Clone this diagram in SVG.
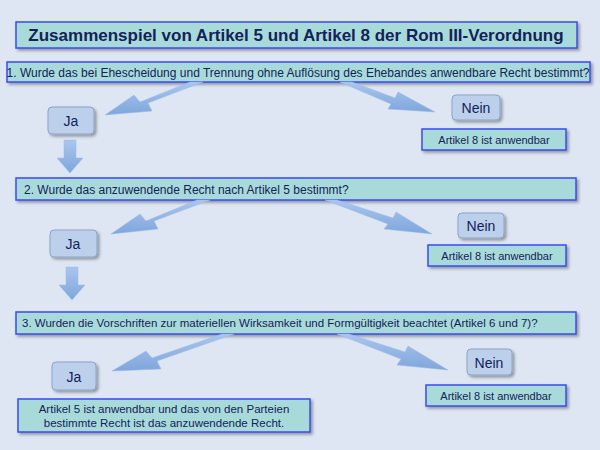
<svg xmlns="http://www.w3.org/2000/svg" width="600" height="450" viewBox="0 0 600 450">
<defs>
<filter id="sh" x="-10%" y="-10%" width="130%" height="150%"><feDropShadow dx="2" dy="2" stdDeviation="1.5" flood-color="#000" flood-opacity="0.35"/></filter>
<linearGradient id="ag" x1="0" y1="0" x2="0" y2="1"><stop offset="0" stop-color="#a9c6ee"/><stop offset="1" stop-color="#7fa6dc"/></linearGradient>
</defs>
<style>
.box{fill:#a9dada;stroke:#3b4bef;stroke-width:1.5;filter:url(#sh)}
.btn{fill:#bcd0ec;stroke:#8aa3c8;stroke-width:1;filter:url(#sh)}
.t{font-family:"Liberation Sans",Arial,sans-serif;fill:#13225a}
.arr{fill:url(#ag);stroke:#9cbbe6;stroke-width:0.5}
</style>
<rect width="600" height="450" fill="#dde6f2"/>
<g id="title"><rect class="box" x="16" y="22" width="561" height="26"/><text class="t" x="296" y="41" font-size="17" font-weight="bold" text-anchor="middle">Zusammenspiel von Artikel 5 und Artikel 8 der Rom III-Verordnung</text></g>
<g id="q1"><rect class="box" x="7" y="62" width="583" height="20"/><text class="t" x="298" y="77" font-size="12" text-anchor="middle">1. Wurde das bei Ehescheidung und Trennung ohne Auflösung des Ehebandes anwendbare Recht bestimmt?</text></g>
<g id="ja1"><rect class="btn" x="48" y="107" width="46" height="27" rx="4"/><text class="t" x="71" y="126" font-size="14" text-anchor="middle">Ja</text></g>
<g id="nein1"><rect class="btn" x="452" y="95" width="48" height="25" rx="4"/><text class="t" x="476" y="113" font-size="14" text-anchor="middle">Nein</text></g>
<g id="a81"><rect class="box" x="422" y="129" width="144" height="21"/><text class="t" x="494" y="144" font-size="11" text-anchor="middle">Artikel 8 ist anwendbar</text></g>
<g id="q2"><rect class="box" x="16" y="178" width="560" height="22"/><text class="t" x="24" y="194" font-size="12">2.  Wurde das anzuwendende Recht nach Artikel 5 bestimmt?</text></g>
<g id="ja2"><rect class="btn" x="50" y="230" width="47" height="27" rx="4"/><text class="t" x="73" y="249" font-size="14" text-anchor="middle">Ja</text></g>
<g id="nein2"><rect class="btn" x="458" y="213" width="46" height="25" rx="4"/><text class="t" x="481" y="231" font-size="14" text-anchor="middle">Nein</text></g>
<g id="a82"><rect class="box" x="428" y="245" width="138" height="21"/><text class="t" x="497" y="260" font-size="11" text-anchor="middle">Artikel 8 ist anwendbar</text></g>
<g id="q3"><rect class="box" x="16" y="312" width="560" height="22"/><text class="t" x="22" y="327" font-size="11.5">3. Wurden die Vorschriften zur materiellen Wirksamkeit und  Formgültigkeit beachtet (Artikel 6 und 7)?</text></g>
<g id="ja3"><rect class="btn" x="52" y="362" width="44" height="28" rx="4"/><text class="t" x="74" y="382" font-size="14" text-anchor="middle">Ja</text></g>
<g id="nein3"><rect class="btn" x="467" y="349" width="45" height="26" rx="4"/><text class="t" x="489" y="368" font-size="14" text-anchor="middle">Nein</text></g>
<g id="a83"><rect class="box" x="426" y="385" width="140" height="21"/><text class="t" x="496" y="400" font-size="11" text-anchor="middle">Artikel 8 ist anwendbar</text></g>
<g id="final"><rect class="box" x="18" y="399" width="292" height="33"/><text class="t" x="164" y="413" font-size="11.5" text-anchor="middle">Artikel 5 ist anwendbar und  das von den Parteien</text><text class="t" x="164" y="427" font-size="11.5" text-anchor="middle">bestimmte Recht  ist das anzuwendende Recht.</text></g>
<g id="connectors">
<polygon class="arr" points="190,82 203,82 148,103 152,111 105,115 134,95 140,102"/>
<polygon class="arr" points="340,82 352,82 395,98 398,92 435,112 388,109 391,104"/>
<polygon class="arr" points="64,140 76,140 76,158 83,158 70,173 57,158 64,158"/>
<polygon class="arr" points="197,200 210,200 154,221 158,229 111,234 140,214 146,221"/>
<polygon class="arr" points="325,200 337,200 393,218 396,212 432,234 384,229 388,224"/>
<polygon class="arr" points="66,267 78,267 78,285 85,285 72,300 59,285 66,285"/>
<polygon class="arr" points="222,334 234,334 157,361 161,369 112,371 146,351 152,358"/>
<polygon class="arr" points="337,334 349,334 405,352 408,346 448,370 397,365 401,359"/>
</g>
</svg>
